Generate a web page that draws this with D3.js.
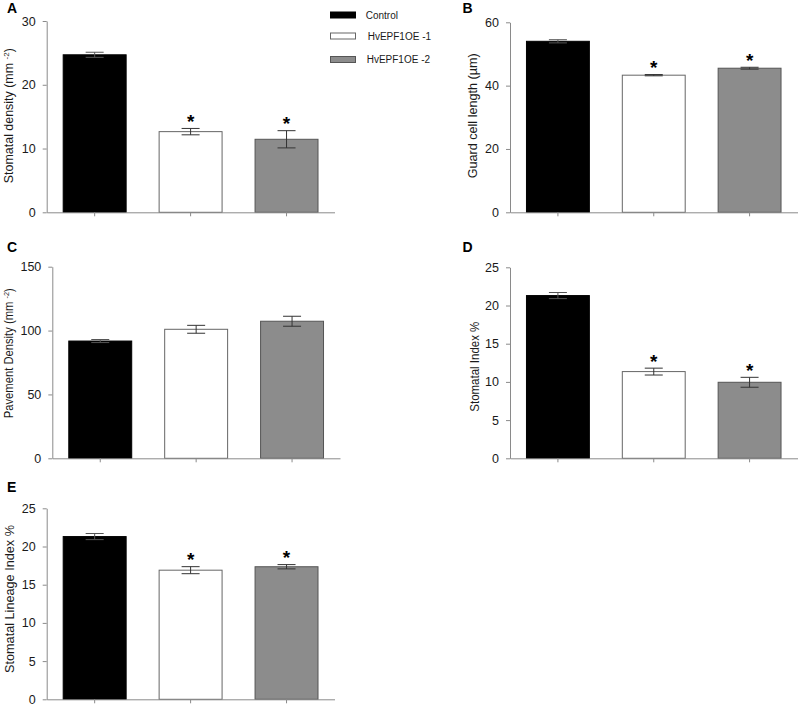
<!DOCTYPE html>
<html>
<head>
<meta charset="utf-8">
<script src="https://cdn.jsdelivr.net/npm/d3@7"></script>
<style>
  html, body { margin: 0; padding: 0; background: #fff; }
  svg { display: block; font-family: "Liberation Sans", Arial, sans-serif; }
</style>
</head>
<body>
<svg id="chart" width="799" height="706"></svg>
<script>
// ---------------- data ----------------
const categories = ["Control", "HvEPF1OE -1", "HvEPF1OE -2"];
const barColors = ["#000000", "#ffffff", "#8c8c8c"];
const barStrokes = ["#000000", "#666666", "#555555"];

const stomatalDensity = [24.7, 12.65, 11.45];
const stomatalDensityErr = [0.4, 0.5, 1.35];
const stomatalDensitySig = [false, true, true];
const stomatalDensityTicks = [0, 10, 20, 30];

const guardCellLength = [54.0, 43.3, 45.5];
const guardCellLengthErr = [0.5, 0.2, 0.3];
const guardCellLengthSig = [false, true, true];
const guardCellLengthTicks = [0, 20, 40, 60];

const pavementDensity = [91.8, 101.0, 107.3];
const pavementDensityErr = [1.2, 3.1, 3.9];
const pavementDensitySig = [false, false, false];
const pavementDensityTicks = [0, 50, 100, 150];

const stomatalIndex = [21.3, 11.35, 9.95];
const stomatalIndexErr = [0.4, 0.45, 0.65];
const stomatalIndexSig = [false, true, true];
const stomatalIndexTicks = [0, 5, 10, 15, 20, 25];

const lineageIndex = [21.3, 16.9, 17.35];
const lineageIndexErr = [0.4, 0.46, 0.28];
const lineageIndexSig = [false, true, true];
const lineageIndexTicks = [0, 5, 10, 15, 20, 25];

// ---------------- layout ----------------
const panels = [
  { letter: "A", lx: 7, ly: 13, x0: 46.7, x1: 334.5, yTop: 21, yBot: 212.3,
    values: stomatalDensity, errs: stomatalDensityErr, sig: stomatalDensitySig, ticks: stomatalDensityTicks,
    label: ["Stomatal density (mm ", "-2", ")"], labX: 12.5, labY: 115.7, labLen: 135 },
  { letter: "B", lx: 462.5, ly: 13, x0: 510, x1: 797.5, yTop: 22.3, yBot: 212.3,
    values: guardCellLength, errs: guardCellLengthErr, sig: guardCellLengthSig, ticks: guardCellLengthTicks,
    label: ["Guard cell length (µm)"], labX: 476.7, labY: 115.8, labLen: 125 },
  { letter: "C", lx: 7, ly: 252, x0: 52.3, x1: 340, yTop: 266.7, yBot: 458.3,
    values: pavementDensity, errs: pavementDensityErr, sig: pavementDensitySig, ticks: pavementDensityTicks,
    label: ["Pavement Density (mm ", "-2", ")"], labX: 12.5, labY: 353.3, labLen: 130 },
  { letter: "D", lx: 462.5, ly: 252, x0: 510, x1: 797.5, yTop: 267.3, yBot: 458.3,
    values: stomatalIndex, errs: stomatalIndexErr, sig: stomatalIndexSig, ticks: stomatalIndexTicks,
    label: ["Stomatal Index %"], labX: 479, labY: 366.7, labLen: 90 },
  { letter: "E", lx: 7, ly: 492, x0: 46.7, x1: 334.5, yTop: 508.3, yBot: 699.3,
    values: lineageIndex, errs: lineageIndexErr, sig: lineageIndexSig, ticks: lineageIndexTicks,
    label: ["Stomatal Lineage Index %"], labX: 14, labY: 599, labLen: 148 }
];

const svg = d3.select("#chart");
const axisColor = "#8a8a8a";

panels.forEach(p => {
  const g = svg.append("g");
  const ticks = p.ticks;
  const x = d3.scaleBand().domain(categories).range([p.x0, p.x1])
    .paddingInner(1/3).paddingOuter(1/6);
  const y = d3.scaleLinear().domain([0, ticks[ticks.length - 1]]).range([p.yBot, p.yTop]);

  // bars
  g.selectAll("rect.bar").data(p.values).join("rect")
    .attr("class", "bar")
    .attr("x", (d, i) => x(categories[i]) + 0.5)
    .attr("width", x.bandwidth() - 1)
    .attr("y", d => y(d))
    .attr("height", d => y(0) - y(d))
    .attr("fill", (d, i) => barColors[i])
    .attr("stroke", (d, i) => barStrokes[i])
    .attr("stroke-width", 1);

  // error bars
  const cap = 9;
  p.values.forEach((v, i) => {
    const cx = x(categories[i]) + x.bandwidth() / 2;
    const col = i === 0 ? "#555" : "#333";
    const hi = y(v + p.errs[i]), lo = y(v - p.errs[i]);
    g.append("line").attr("x1", cx).attr("x2", cx).attr("y1", hi).attr("y2", lo)
      .attr("stroke", col).attr("stroke-width", 1);
    g.append("line").attr("x1", cx - cap).attr("x2", cx + cap).attr("y1", hi).attr("y2", hi)
      .attr("stroke", col).attr("stroke-width", 1);
    g.append("line").attr("x1", cx - cap).attr("x2", cx + cap).attr("y1", lo).attr("y2", lo)
      .attr("stroke", col).attr("stroke-width", 1);
    if (p.sig[i]) {
      g.append("text")
        .attr("x", cx).attr("y", hi - 12)
        .attr("text-anchor", "middle")
        .attr("dominant-baseline", "central")
        .attr("font-size", 19).attr("font-weight", "bold")
        .attr("dy", "0.28em")
        .attr("fill", "#000")
        .text("*");
    }
  });

  // y axis
  const ya = g.append("g").attr("transform", `translate(${p.x0},0)`)
    .call(d3.axisLeft(y).tickValues(ticks).tickSize(4).tickSizeOuter(0).tickPadding(7));
  ya.select(".domain").attr("stroke", axisColor);
  ya.selectAll(".tick line").attr("stroke", axisColor);
  ya.selectAll(".tick text").attr("font-size", 12.5).attr("fill", "#1a1a1a")
    .attr("font-family", "Liberation Sans, Arial, sans-serif");

  // x axis
  const xa = g.append("g").attr("transform", `translate(0,${p.yBot})`)
    .call(d3.axisBottom(x).tickSize(4).tickSizeOuter(0).tickFormat(""));
  xa.select(".domain").attr("stroke", axisColor);
  xa.selectAll(".tick line").attr("stroke", axisColor);

  // y label
  const t = g.append("text")
    .attr("transform", `translate(${p.labX},${p.labY}) rotate(-90)`)
    .attr("text-anchor", "middle")
    .attr("font-size", 12.5)
    .attr("fill", "#1a1a1a")
    .attr("textLength", p.labLen)
    .attr("lengthAdjust", "spacingAndGlyphs");
  t.append("tspan").text(p.label[0]);
  if (p.label.length > 1) {
    t.append("tspan").attr("font-size", 8).attr("dy", -4).text(p.label[1]);
    t.append("tspan").attr("dy", 4).text(p.label[2]);
  }

  // panel letter
  g.append("text").attr("x", p.lx).attr("y", p.ly)
    .attr("font-size", 14).attr("font-weight", "bold").attr("fill", "#000")
    .text(p.letter);
});

// legend
const legendY = [15, 36, 59.5];
const legendTextX = [365.7, 367.7, 366.7];
const lg = svg.append("g");
categories.forEach((c, i) => {
  lg.append("rect")
    .attr("x", 330.5).attr("y", legendY[i] - 3).attr("width", 25).attr("height", 6)
    .attr("fill", barColors[i]).attr("stroke", barStrokes[i]).attr("stroke-width", 1);
  lg.append("text")
    .attr("x", legendTextX[i]).attr("y", legendY[i])
    .attr("dominant-baseline", "central")
    .attr("font-size", 10).attr("fill", "#1a1a1a")
    .text(c);
});
</script>
</body>
</html>
